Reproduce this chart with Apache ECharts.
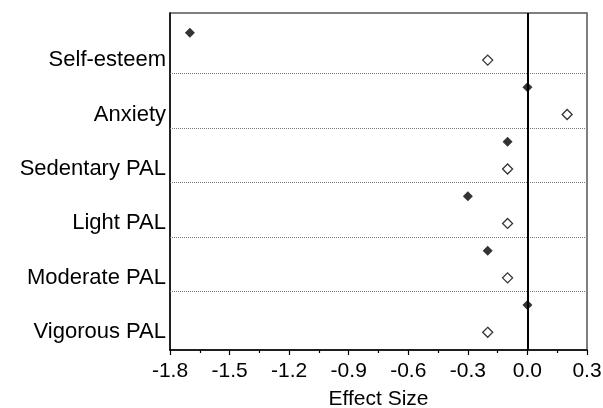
<!DOCTYPE html>
<html>
<head>
<meta charset="utf-8">
<script src="https://cdn.jsdelivr.net/npm/echarts@6/dist/echarts.min.js"></script>
<style>
html,body{margin:0;padding:0;background:#fff;}
#chart{width:603px;height:408px;}
</style>
</head>
<body>
<div id="chart"></div>
<script>
// Data
const categories = ['Self-esteem', 'Anxiety', 'Sedentary PAL', 'Light PAL', 'Moderate PAL', 'Vigorous PAL'];
const filledValues = [-1.7, 0.0, -0.1, -0.3, -0.2, 0.0];
const openValues = [-0.2, 0.2, -0.1, -0.1, -0.1, -0.2];
const xTicks = [-1.8, -1.5, -1.2, -0.9, -0.6, -0.3, 0.0, 0.3];

// each category occupies two rows: filled marker above, open marker below
const filledData = filledValues.map((v, i) => [v, 2 * i + 1]);
const openData = openValues.map((v, i) => [v, 2 * i + 2]);
const labelRows = categories.map((c, i) => 2 * i + 2);
const separatorRows = categories.slice(1).map((c, i) => 2 * i + 2.5);

const FONT = "'Liberation Sans', Arial, sans-serif";
const chart = echarts.init(document.getElementById('chart'), null, {renderer: 'canvas'});
chart.setOption({
  animation: false,
  backgroundColor: '#fff',
  textStyle: {fontFamily: FONT, color: '#000'},
  grid: {left: 170, right: 16, top: 13, bottom: 58, containLabel: false, outerBoundsMode: 'none',
         show: true, borderColor: '#555', borderWidth: 1.5, backgroundColor: 'transparent'},
  xAxis: {
    type: 'value',
    min: xTicks[0], max: xTicks[xTicks.length - 1], interval: 0.3,
    axisLine: {show: true, onZero: false, lineStyle: {color: '#000', width: 1.5}},
    axisTick: {show: true, length: 5, lineStyle: {color: '#000', width: 1.2}},
    minorTick: {show: true, splitNumber: 2, length: 3, lineStyle: {color: '#000', width: 1.2}},
    splitLine: {show: false},
    axisLabel: {fontSize: 21, color: '#000', fontFamily: FONT, margin: 11, formatter: v => v.toFixed(1)},
    name: 'Effect Size', nameLocation: 'middle', nameGap: 39,
    nameTextStyle: {fontSize: 21, color: '#000', fontFamily: FONT}
  },
  yAxis: {
    type: 'value', inverse: true, min: 0.27, max: 12.65,
    axisLine: {show: true, onZero: false, lineStyle: {color: '#000', width: 1.5}},
    axisTick: {show: false},
    splitLine: {show: false},
    axisLabel: {
      show: true, fontSize: 22, color: '#000', fontFamily: FONT, margin: 4,
      customValues: labelRows,
      formatter: v => categories[Math.round(v / 2) - 1]
    }
  },
  series: [
    {
      name: 'filled', type: 'scatter', data: filledData, symbol: 'diamond', symbolSize: 10,
      itemStyle: {color: '#000'}, z: 5,
      markLine: {
        silent: true, symbol: 'none', label: {show: false},
        data: separatorRows.map(r => ({yAxis: r, lineStyle: {type: [1, 1], color: '#777', width: 1}}))
          .concat([{xAxis: 0, lineStyle: {type: 'solid', color: '#000', width: 2}}])
      }
    },
    {
      name: 'open', type: 'scatter', data: openData, symbol: 'diamond', symbolSize: 10,
      itemStyle: {color: '#fff', borderColor: '#000', borderWidth: 1.3}, z: 5
    }
  ]
});
</script>
</body>
</html>
